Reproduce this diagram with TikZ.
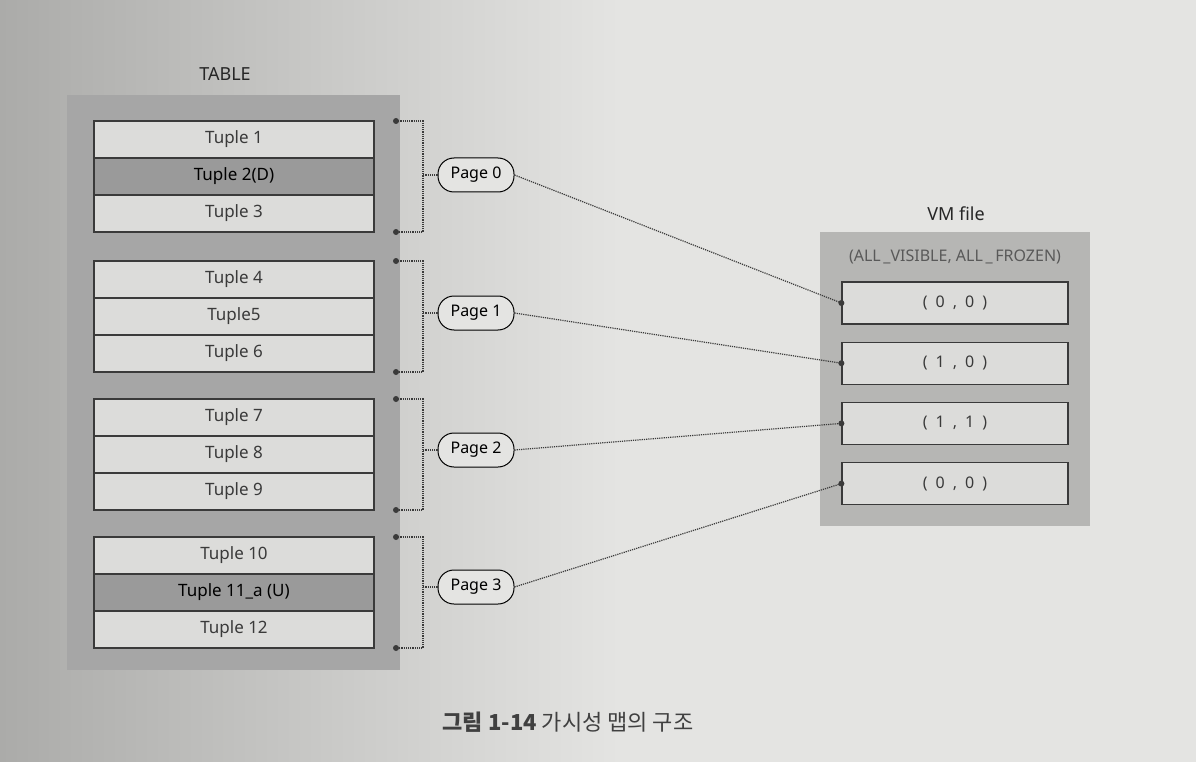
\documentclass[tikz,border=0pt]{standalone}
\usepackage{fontspec}
\setmainfont{Noto Sans}
\newfontfamily\krfont{Noto Sans CJK KR}
\usetikzlibrary{positioning}

\definecolor{paper}{HTML}{E4E4E2}
\definecolor{paperdark}{HTML}{ABABA9}
\definecolor{tablegray}{HTML}{A6A6A6}
\definecolor{rowlight}{HTML}{DCDCDA}
\definecolor{rowdark}{HTML}{9A9A9A}
\definecolor{vmgray}{HTML}{B6B6B4}
\definecolor{inkgray}{HTML}{3A3A3A}

\tikzset{
  tuplerow/.style={draw=inkgray, line width=1.2pt, fill=rowlight, minimum width=280pt,
    minimum height=37pt, inner sep=0pt, outer sep=0pt, font=\fontsize{17}{19}\selectfont, text=inkgray},
  tuplemark/.style={tuplerow, fill=rowdark, line width=2pt, text=black},
  pagebox/.style={draw=black, line width=1pt, fill=paper, rounded corners=16pt,
    minimum width=76pt, minimum height=34pt, font=\fontsize{16}{18}\selectfont},
  vmrow/.style={draw=inkgray, line width=1.2pt, fill=rowlight, minimum width=226pt,
    minimum height=42pt, font=\fontsize{16}{18}\selectfont, text=inkgray},
  dotline/.style={densely dotted, line width=1.2pt, inkgray},
  caption/.style={font=\fontsize{18}{20}\selectfont, text=black!85}
}

\begin{document}
\begin{tikzpicture}[x=1pt,y=-1pt]
\useasboundingbox (0,0) rectangle (1196,762);
% paper and shadow
\shade[left color=paperdark, right color=paper] (0,0) rectangle (620,762);
\fill[paper] (620,0) rectangle (1196,762);

% TABLE
\node[caption] (tablelabel) at (225,74) {TABLE};
\fill[tablegray] (67,95) rectangle (400,670);
\node[tuplerow] (t1) at (234,139.5) {Tuple 1};
\node[tuplemark, below=0pt of t1] (t2) {Tuple 2(D)};
\node[tuplerow, below=0pt of t2] (t3) {Tuple 3};
\node[tuplerow] (t4) at (234,279.5) {Tuple 4};
\node[tuplerow, below=0pt of t4] (t5) {Tuple5};
\node[tuplerow, below=0pt of t5] (t6) {Tuple 6};
\node[tuplerow] (t7) at (234,417.5) {Tuple 7};
\node[tuplerow, below=0pt of t7] (t8) {Tuple 8};
\node[tuplerow, below=0pt of t8] (t9) {Tuple 9};
\node[tuplerow] (t10) at (234,555.5) {Tuple 10};
\node[tuplemark, below=0pt of t10] (t11) {Tuple 11\_a (U)};
\node[tuplerow, below=0pt of t11] (t12) {Tuple 12};

% VM file
\node[caption] (vmlabel) at (956,214) {VM file};
\fill[vmgray] (820,232) rectangle (1090,526);
\node[font=\fontsize{16}{18}\selectfont, text=black!65] (vmhead) at (955,257)
  {(ALL\,\_VISIBLE, ALL\,\_\,FROZEN)};
\node[vmrow] (vm0) at (955,303) {(\enspace0\enspace,\enspace0\enspace)};
\node[vmrow, below=17pt of vm0] (vm1) {(\enspace1\enspace,\enspace0\enspace)};
\node[vmrow, below=17pt of vm1] (vm2) {(\enspace1\enspace,\enspace1\enspace)};
\node[vmrow, below=17pt of vm2] (vm3) {(\enspace0\enspace,\enspace0\enspace)};

% pages with their brackets
\foreach \g/\a/\c/\m in {0/1/3/175,1/4/6/313,2/7/9/450,3/10/12/587}{
  \node[pagebox] (page\g) at (476,\m) {Page \g};
  \coordinate (top\g) at ([xshift=22pt]t\a.north east);
  \coordinate (bot\g) at ([xshift=22pt]t\c.south east);
  \coordinate (bar\g) at ([xshift=27pt]top\g);
  \draw[dotline] (top\g) -- (bar\g) |- (bot\g);
  \draw[dotline] (page\g.west) -- (page\g.west -| bar\g);
  \fill[inkgray] (top\g) circle (3pt) (bot\g) circle (3pt);
  \draw[dotline] (page\g.east) -- (vm\g.west);
  \fill[inkgray] (vm\g.west) circle (3pt);
}

\node[font=\krfont\fontsize{22}{24}\selectfont, text=black!75] (figcap) at (568,722)
  {{\bfseries 그림 1-14} 가시성 맵의 구조};
\end{tikzpicture}
\end{document}
